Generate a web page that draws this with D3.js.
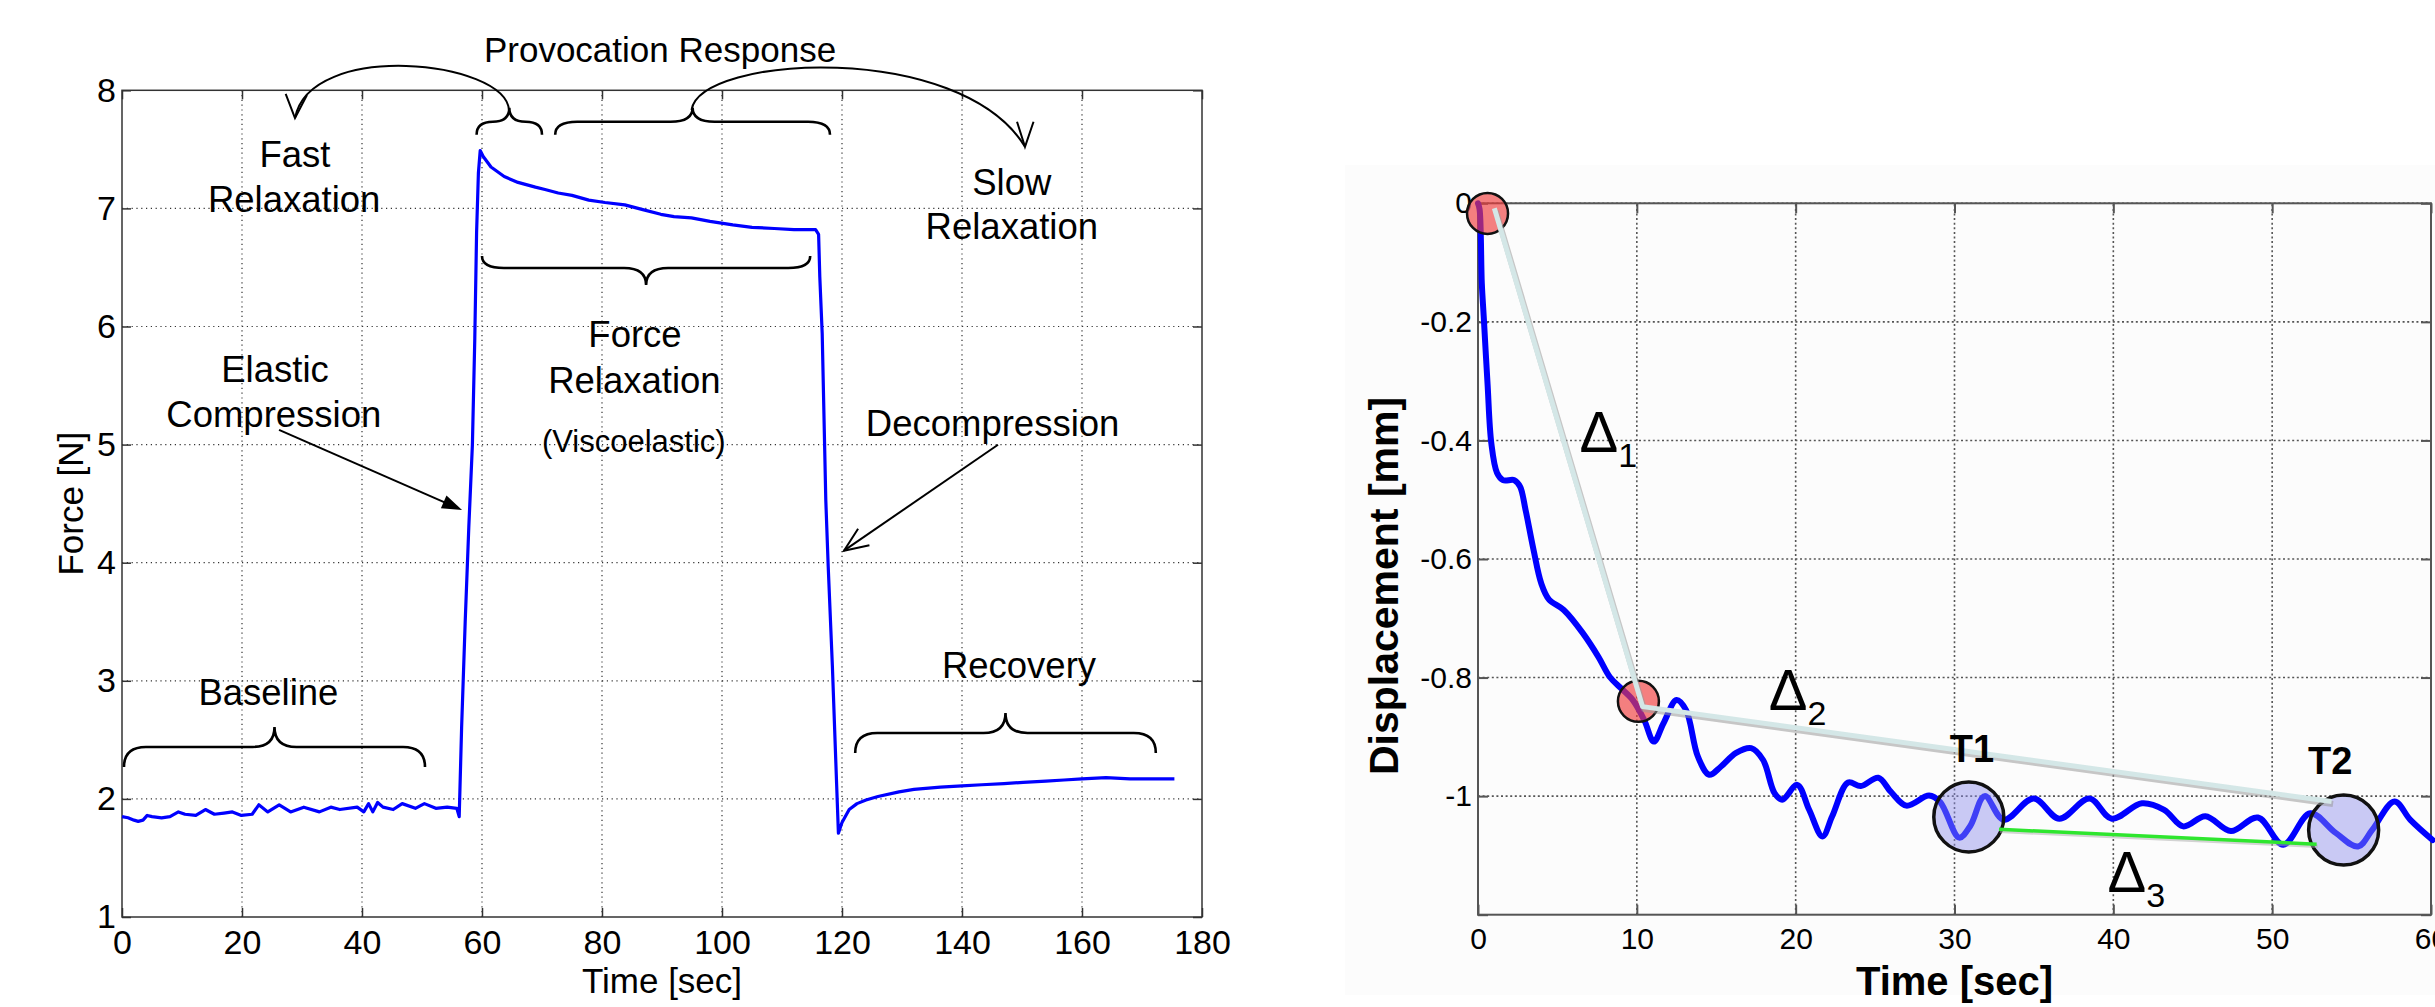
<!DOCTYPE html>
<html>
<head>
<meta charset="utf-8">
<script src="https://cdnjs.cloudflare.com/ajax/libs/d3/7.8.5/d3.min.js"></script>
<style>
  body { margin: 0; background: #fff; }
  text { font-family: "Liberation Sans", Arial, sans-serif; }
</style>
</head>
<body>
<script>
"use strict"

// ---- left chart: force vs time ----
let forceTime = [0, 1, 2, 2.7, 3.5, 4.2, 5, 6.6, 8, 9.4, 10.5, 12.3, 13.9, 15.4, 17, 18.4, 19.9, 21.7, 22.8, 24.3,
    26.2, 28.1, 30.3, 32.9, 34.8, 36.3, 39.2, 40.3, 41.1, 41.8, 42.6, 43.5, 45.2, 46.7, 48.9, 50.4, 52.3, 54.2, 55.8, 56.2,
    56.6, 57.2, 57.8, 58.4, 58.8, 59.1, 59.4, 59.7,
    60.2, 61.5, 63.7, 66, 68.9, 70.5, 72.7, 75, 77.8, 80.5, 83.8, 86.8, 89.8, 92, 94.9, 98, 101.8, 105, 108.7, 112, 115.6, 116.1,
    116.3, 116.7, 117.3, 117.7, 118.4, 119.1, 119.4,
    120, 121.2, 122.5, 124, 126, 129.5, 132, 136.4, 140, 143.3, 147, 150.2, 154, 157, 160, 164, 168, 172, 175.4]
let forceValue = [1.85, 1.84, 1.82, 1.81, 1.82, 1.86, 1.85, 1.84, 1.85, 1.89, 1.87, 1.86, 1.91, 1.87, 1.88, 1.89, 1.86, 1.87, 1.95, 1.89,
    1.95, 1.89, 1.93, 1.89, 1.93, 1.91, 1.93, 1.89, 1.96, 1.89, 1.97, 1.93, 1.91, 1.96, 1.92, 1.96, 1.92, 1.93, 1.92, 1.85,
    2.6, 3.5, 4.3, 5.0, 5.9, 6.8, 7.3, 7.49,
    7.44, 7.35, 7.27, 7.22, 7.18, 7.16, 7.13, 7.11, 7.07, 7.05, 7.03, 6.99, 6.95, 6.93, 6.92, 6.89, 6.86, 6.84, 6.83, 6.82, 6.82, 6.78,
    6.42, 5.94, 4.53, 3.97, 3.12, 2.13, 1.71,
    1.80, 1.91, 1.96, 1.99, 2.02, 2.06, 2.08, 2.10, 2.11, 2.12, 2.13, 2.14, 2.15, 2.16, 2.17, 2.18, 2.17, 2.17, 2.17]
let forceXTicks = [0, 20, 40, 60, 80, 100, 120, 140, 160, 180]
let forceYTicks = [1, 2, 3, 4, 5, 6, 7, 8]

// ---- right chart: displacement vs time ----
let dispTime = [0, 0.1, 0.24, 0.36, 0.6, 0.84, 1.2, 1.57, 2.29, 2.65, 3.0, 3.5, 3.98, 4.46, 5.4, 6.6, 7.58, 8.3, 9.0, 9.75,
    10.47, 11.07, 11.68, 12.5, 13.1, 13.84, 14.56, 15.3, 16.25, 17.2, 17.95, 18.67, 19.15, 20.1, 20.85, 21.69, 22.3, 23.3,
    24.1, 25.2, 26.0, 26.97, 28.4, 29.1, 30.3, 31.0, 31.9, 33.1, 34.98, 36.6, 38.5, 39.9, 41.8, 43.2, 44.4, 45.8, 47.4,
    49.1, 50.7, 52.4, 54.0, 55.4, 56.3, 57.7, 58.7, 60.1]
let dispValue = [0, -0.01, -0.135, -0.191, -0.304, -0.405, -0.455, -0.467, -0.467, -0.478, -0.518, -0.585, -0.641, -0.668, -0.686, -0.725, -0.765, -0.799, -0.818, -0.838,
    -0.872, -0.908, -0.877, -0.838, -0.855, -0.933, -0.964, -0.950, -0.927, -0.919, -0.939, -0.995, -1.006, -0.981, -1.023, -1.068, -1.034, -0.977,
    -0.983, -0.969, -0.993, -1.016, -0.999, -1.01, -1.07, -1.05, -1.0, -1.04, -1.004, -1.038, -1.004, -1.038, -1.012, -1.023, -1.051, -1.034, -1.059,
    -1.036, -1.082, -1.029, -1.062, -1.085, -1.057, -1.009, -1.04, -1.074]
let dispXTicks = [0, 10, 20, 30, 40, 50, 60]
let dispYTicks = [0, -0.2, -0.4, -0.6, -0.8, -1, -1.2]
let dispYLabels = ["0", "-0.2", "-0.4", "-0.6", "-0.8", "-1", ""]

// marked points on the displacement curve
let redMarkTime = [0.6, 10.1]
let redMarkValue = [-0.017, -0.84]
let tMarkTime = [30.9, 54.5]
let tMarkValue = [-1.035, -1.057]
let tMarkNames = ["T1", "T2"]
let deltaTime = [1.03, 10.36, 53.74]
let deltaValue = [-0.0084, -0.849, -1.009]
let greenTime = [32.8, 52.8]
let greenValue = [-1.056, -1.081]

let svg = d3.select("body").append("svg")
    .attr("width", 2435)
    .attr("height", 1007)

svg.append("rect").attr("width", 2435).attr("height", 1007).attr("fill", "#fff")

// ================= LEFT =================
let fx = d3.scaleLinear().domain([0, 180]).range([122, 1202])
let fy = d3.scaleLinear().domain([1, 8]).range([917, 90.3])

let left = svg.append("g")

left.selectAll("line.vgrid")
    .data(forceXTicks.slice(1, -1))
    .join("line")
    .classed("vgrid", true)
    .attr("x1", d => fx(d)).attr("x2", d => fx(d))
    .attr("y1", fy(1)).attr("y2", fy(8))
    .attr("stroke", "#333").attr("stroke-width", 1.2)
    .attr("stroke-dasharray", "1.2,3.6")

left.selectAll("line.hgrid")
    .data(forceYTicks.slice(1, -1))
    .join("line")
    .classed("hgrid", true)
    .attr("x1", fx(0)).attr("x2", fx(180))
    .attr("y1", d => fy(d)).attr("y2", d => fy(d))
    .attr("stroke", "#333").attr("stroke-width", 1.2)
    .attr("stroke-dasharray", "1.2,3.6")

function styleAxis(g, size) {
    g.select(".domain").remove()
    g.selectAll(".tick line").attr("stroke", "#333").attr("stroke-width", 1.5)
    g.selectAll(".tick text").attr("fill", "#000").style("font-size", size + "px")
        .style("font-family", '"Liberation Sans", Arial, sans-serif')
}

let intFormat = d3.format("d")

left.append("g")
    .attr("transform", `translate(0,${fy(1)})`)
    .call(d3.axisBottom(fx).tickValues(forceXTicks).tickFormat(intFormat)
        .tickSize(-9).tickSizeOuter(0).tickPadding(13))
    .call(g => styleAxis(g, 34))
left.append("g")
    .attr("transform", `translate(0,${fy(8)})`)
    .call(d3.axisTop(fx).tickValues(forceXTicks).tickSize(-9).tickSizeOuter(0).tickFormat(""))
    .call(g => styleAxis(g, 34))
left.append("g")
    .attr("transform", `translate(${fx(0)},0)`)
    .call(d3.axisLeft(fy).tickValues(forceYTicks).tickFormat(intFormat)
        .tickSize(-9).tickSizeOuter(0).tickPadding(6))
    .call(g => styleAxis(g, 34))
left.append("g")
    .attr("transform", `translate(${fx(180)},0)`)
    .call(d3.axisRight(fy).tickValues(forceYTicks).tickSize(-9).tickSizeOuter(0).tickFormat(""))
    .call(g => styleAxis(g, 34))

left.append("rect")
    .attr("x", fx(0)).attr("y", fy(8))
    .attr("width", fx(180) - fx(0)).attr("height", fy(1) - fy(8))
    .attr("fill", "none").attr("stroke", "#333").attr("stroke-width", 1.5)

left.append("path")
    .datum(d3.range(forceTime.length))
    .attr("fill", "none")
    .attr("stroke", "#0000ff")
    .attr("stroke-width", 3.2)
    .attr("stroke-linejoin", "round")
    .attr("d", d3.line().x(i => fx(forceTime[i])).y(i => fy(forceValue[i])))

left.append("text")
    .attr("x", fx(90)).attr("y", 993)
    .attr("text-anchor", "middle").style("font-size", "35px")
    .text("Time [sec]")
left.append("text")
    .attr("transform", `translate(83,${fy(4.5)}) rotate(-90)`)
    .attr("text-anchor", "middle").style("font-size", "35px")
    .text("Force [N]")

// curly braces
function bracePath(xa, xb, yFlat, dir, tipDepth, endDepth) {
    let xc = (xa + xb) / 2
    let r = Math.min(22, (xb - xa) / 4)
    let yEnd = yFlat - dir * endDepth
    let yTip = yFlat + dir * tipDepth
    return `M${xa},${yEnd} Q${xa},${yFlat} ${xa + r},${yFlat} L${xc - r},${yFlat} ` +
        `Q${xc},${yFlat} ${xc},${yTip} Q${xc},${yFlat} ${xc + r},${yFlat} ` +
        `L${xb - r},${yFlat} Q${xb},${yFlat} ${xb},${yEnd}`
}

let braces = [
    { t1: 0.33, t2: 50.5, v: 2.44, dir: -1, tip: 20, end: 20 },
    { t1: 122.2, t2: 172.3, v: 2.558, dir: -1, tip: 20, end: 20 },
    { t1: 60, t2: 114.7, v: 6.495, dir: 1, tip: 17, end: 12 },
    { t1: 59.1, t2: 70, v: 7.734, dir: -1, tip: 14, end: 13 },
    { t1: 72.2, t2: 118, v: 7.734, dir: -1, tip: 14, end: 13 }
]

left.selectAll("path.brace")
    .data(braces)
    .join("path")
    .classed("brace", true)
    .attr("fill", "none").attr("stroke", "#000").attr("stroke-width", 2.6)
    .attr("d", b => bracePath(fx(b.t1), fx(b.t2), fy(b.v), b.dir, b.tip, b.end))

// arcs from braces to the relaxation labels
function arcPath(p) {
    return `M${fx(p[0][0])},${fy(p[0][1])} C${fx(p[1][0])},${fy(p[1][1])} ` +
        `${fx(p[2][0])},${fy(p[2][1])} ${fx(p[3][0])},${fy(p[3][1])}`
}
let fastArc = [[64.5, 7.833], [63.83, 8.257], [31.3, 8.426], [28.83, 7.765]]
let slowArc = [[94.92, 7.833], [96.33, 8.299], [139.67, 8.426], [150.5, 7.522]]
let fastHead = [[27.28, 7.969], [28.83, 7.765], [30.83, 7.960]]
let slowHead = [[149.17, 7.734], [150.5, 7.522], [151.92, 7.734]]

left.selectAll("path.arc")
    .data([fastArc, slowArc])
    .join("path")
    .classed("arc", true)
    .attr("fill", "none").attr("stroke", "#000").attr("stroke-width", 2)
    .attr("d", arcPath)

let polyline = d3.line().x(p => fx(p[0])).y(p => fy(p[1]))
left.selectAll("path.vhead")
    .data([fastHead, slowHead])
    .join("path")
    .classed("vhead", true)
    .attr("fill", "none").attr("stroke", "#000").attr("stroke-width", 2)
    .attr("d", polyline)

// elastic compression arrow (filled head)
let elasticFrom = [26.17, 5.124], elasticTo = [56.67, 4.447]
let ex1 = fx(elasticFrom[0]), ey1 = fy(elasticFrom[1]), ex2 = fx(elasticTo[0]), ey2 = fy(elasticTo[1])
let eAng = Math.atan2(ey2 - ey1, ex2 - ex1)
left.append("line")
    .attr("x1", ex1).attr("y1", ey1)
    .attr("x2", ex2 - 14 * Math.cos(eAng)).attr("y2", ey2 - 14 * Math.sin(eAng))
    .attr("stroke", "#000").attr("stroke-width", 2)
left.append("path")
    .attr("d", `M0,0 L-20,-7 L-20,7 Z`)
    .attr("transform", `translate(${ex2},${ey2}) rotate(${eAng * 180 / Math.PI})`)
    .attr("fill", "#000")

// decompression arrow (open head)
let decoFrom = [146, 4.999], decoTo = [120.33, 4.102]
let dx1 = fx(decoFrom[0]), dy1 = fy(decoFrom[1]), dx2 = fx(decoTo[0]), dy2 = fy(decoTo[1])
let dAng = Math.atan2(dy2 - dy1, dx2 - dx1)
left.append("line")
    .attr("x1", dx1).attr("y1", dy1).attr("x2", dx2).attr("y2", dy2)
    .attr("stroke", "#000").attr("stroke-width", 2)
left.append("path")
    .attr("d", `M-24,-10 L0,0 L-24,10`)
    .attr("transform", `translate(${dx2},${dy2}) rotate(${dAng * 180 / Math.PI})`)
    .attr("fill", "none").attr("stroke", "#000").attr("stroke-width", 2)

let forceNotes = [
    { t: 89.67, v: 8.242, text: "Provocation Response", size: 35 },
    { t: 28.83, v: 7.349, text: "Fast", size: 36.5 },
    { t: 28.7, v: 6.968, text: "Relaxation", size: 36.5 },
    { t: 25.5, v: 5.53, text: "Elastic", size: 36.5 },
    { t: 25.3, v: 5.149, text: "Compression", size: 36.5 },
    { t: 85.5, v: 5.826, text: "Force", size: 36.5 },
    { t: 85.4, v: 5.437, text: "Relaxation", size: 36.5 },
    { t: 85.3, v: 4.938, text: "(Viscoelastic)", size: 31 },
    { t: 145.1, v: 5.073, text: "Decompression", size: 36.5 },
    { t: 148.3, v: 7.113, text: "Slow", size: 36.5 },
    { t: 148.3, v: 6.741, text: "Relaxation", size: 36.5 },
    { t: 24.4, v: 2.795, text: "Baseline", size: 36.5 },
    { t: 149.5, v: 3.025, text: "Recovery", size: 36.5 }
]

left.selectAll("text.note")
    .data(forceNotes)
    .join("text")
    .classed("note", true)
    .attr("x", d => fx(d.t)).attr("y", d => fy(d.v))
    .attr("text-anchor", "middle")
    .style("font-size", d => d.size + "px")
    .text(d => d.text)

// ================= RIGHT =================
let rx = d3.scaleLinear().domain([0, 60]).range([1478, 2431])
let ry = d3.scaleLinear().domain([-1.2, 0]).range([914.7, 203.3])

let right = svg.append("g")

right.append("rect")
    .attr("x", 1345).attr("y", 165).attr("width", 1090).attr("height", 830)
    .attr("fill", "#fcfcfc")

right.selectAll("line.vgrid")
    .data(dispXTicks.slice(1, -1))
    .join("line")
    .classed("vgrid", true)
    .attr("x1", d => rx(d)).attr("x2", d => rx(d))
    .attr("y1", ry(-1.2)).attr("y2", ry(0))
    .attr("stroke", "#555").attr("stroke-width", 1.6)
    .attr("stroke-dasharray", "2,2.6")

right.selectAll("line.hgrid")
    .data(dispYTicks.slice(0, -1))
    .join("line")
    .classed("hgrid", true)
    .attr("x1", rx(0)).attr("x2", rx(60))
    .attr("y1", d => ry(d)).attr("y2", d => ry(d))
    .attr("stroke", "#555").attr("stroke-width", 1.6)
    .attr("stroke-dasharray", "2,2.6")

function styleRightAxis(g) {
    g.select(".domain").remove()
    g.selectAll(".tick line").attr("stroke", "#555").attr("stroke-width", 2)
    g.selectAll(".tick text").attr("fill", "#000").style("font-size", "30px")
        .style("font-family", '"Liberation Sans", Arial, sans-serif')
}

right.append("g")
    .attr("transform", `translate(0,${ry(-1.2)})`)
    .call(d3.axisBottom(rx).tickValues(dispXTicks).tickSize(-10).tickSizeOuter(0).tickPadding(13))
    .call(styleRightAxis)
right.append("g")
    .attr("transform", `translate(0,${ry(0)})`)
    .call(d3.axisTop(rx).tickValues(dispXTicks).tickSize(-10).tickSizeOuter(0).tickFormat(""))
    .call(styleRightAxis)
right.append("g")
    .attr("transform", `translate(${rx(0)},0)`)
    .call(d3.axisLeft(ry).tickValues(dispYTicks).tickSize(-10).tickSizeOuter(0).tickPadding(6)
        .tickFormat((d, i) => dispYLabels[i]))
    .call(styleRightAxis)
right.append("g")
    .attr("transform", `translate(${rx(60)},0)`)
    .call(d3.axisRight(ry).tickValues(dispYTicks).tickSize(-10).tickSizeOuter(0).tickFormat(""))
    .call(styleRightAxis)

right.append("rect")
    .attr("x", rx(0)).attr("y", ry(0))
    .attr("width", rx(60) - rx(0)).attr("height", ry(-1.2) - ry(0))
    .attr("fill", "none").attr("stroke", "#555").attr("stroke-width", 2)

right.append("path")
    .datum(d3.range(dispTime.length))
    .attr("fill", "none")
    .attr("stroke", "#0000ff")
    .attr("stroke-width", 6)
    .attr("stroke-linejoin", "round")
    .attr("stroke-linecap", "round")
    .attr("d", d3.line().curve(d3.curveCatmullRom.alpha(0.5))
        .x(i => rx(dispTime[i])).y(i => ry(dispValue[i])))

right.selectAll("circle.red")
    .data(d3.range(redMarkTime.length))
    .join("circle")
    .classed("red", true)
    .attr("cx", i => rx(redMarkTime[i])).attr("cy", i => ry(redMarkValue[i]))
    .attr("r", 20.5)
    .attr("fill", "rgba(240,60,60,0.65)")
    .attr("stroke", "#111").attr("stroke-width", 2.5)

right.selectAll("circle.tmark")
    .data(d3.range(tMarkTime.length))
    .join("circle")
    .classed("tmark", true)
    .attr("cx", i => rx(tMarkTime[i])).attr("cy", i => ry(tMarkValue[i]))
    .attr("r", 35)
    .attr("fill", "rgba(140,140,235,0.45)")
    .attr("stroke", "#111").attr("stroke-width", 3.5)

let deltaLine = d3.line().x(i => rx(deltaTime[i])).y(i => ry(deltaValue[i]))
right.append("path")
    .datum(d3.range(deltaTime.length))
    .attr("transform", "translate(1.5,2.5)")
    .attr("fill", "none").attr("stroke", "#999").attr("stroke-opacity", 0.55)
    .attr("stroke-width", 6).attr("stroke-linejoin", "round")
    .attr("d", deltaLine)
right.append("path")
    .datum(d3.range(deltaTime.length))
    .attr("fill", "none").attr("stroke", "#d4e7e7")
    .attr("stroke-width", 5).attr("stroke-linejoin", "round")
    .attr("d", deltaLine)

let greenLine = d3.line().x(i => rx(greenTime[i])).y(i => ry(greenValue[i]))
right.append("path")
    .datum(d3.range(greenTime.length))
    .attr("transform", "translate(1,2)")
    .attr("fill", "none").attr("stroke", "#aaa").attr("stroke-opacity", 0.5)
    .attr("stroke-width", 3.5)
    .attr("d", greenLine)
right.append("path")
    .datum(d3.range(greenTime.length))
    .attr("fill", "none").attr("stroke", "#2ee62e")
    .attr("stroke-width", 3.5)
    .attr("d", greenLine)

let deltaNotes = [
    { t: 6.385, v: -0.419, sub: "1" },
    { t: 18.3, v: -0.855, sub: "2" },
    { t: 39.64, v: -1.161, sub: "3" }
]
let dn = right.selectAll("text.delta")
    .data(deltaNotes)
    .join("text")
    .classed("delta", true)
    .attr("x", d => rx(d.t)).attr("y", d => ry(d.v))
    .style("font-size", "58px")
dn.append("tspan").text("\u0394")
dn.append("tspan").attr("dy", 15).style("font-size", "34px").text(d => d.sub)

let tNotes = [
    { t: 31.1, v: -0.942 },
    { t: 53.65, v: -0.963 }
]
right.selectAll("text.tname")
    .data(tNotes)
    .join("text")
    .classed("tname", true)
    .attr("x", d => rx(d.t)).attr("y", d => ry(d.v))
    .attr("text-anchor", "middle")
    .style("font-size", "38px").style("font-weight", "bold")
    .text((d, i) => tMarkNames[i])

right.append("text")
    .attr("x", rx(30)).attr("y", 995)
    .attr("text-anchor", "middle")
    .style("font-size", "40px").style("font-weight", "bold")
    .text("Time [sec]")
right.append("text")
    .attr("transform", `translate(1398,586) rotate(-90)`)
    .attr("text-anchor", "middle")
    .style("font-size", "41px").style("font-weight", "bold")
    .text("Displacement [mm]")
</script>
</body>
</html>
